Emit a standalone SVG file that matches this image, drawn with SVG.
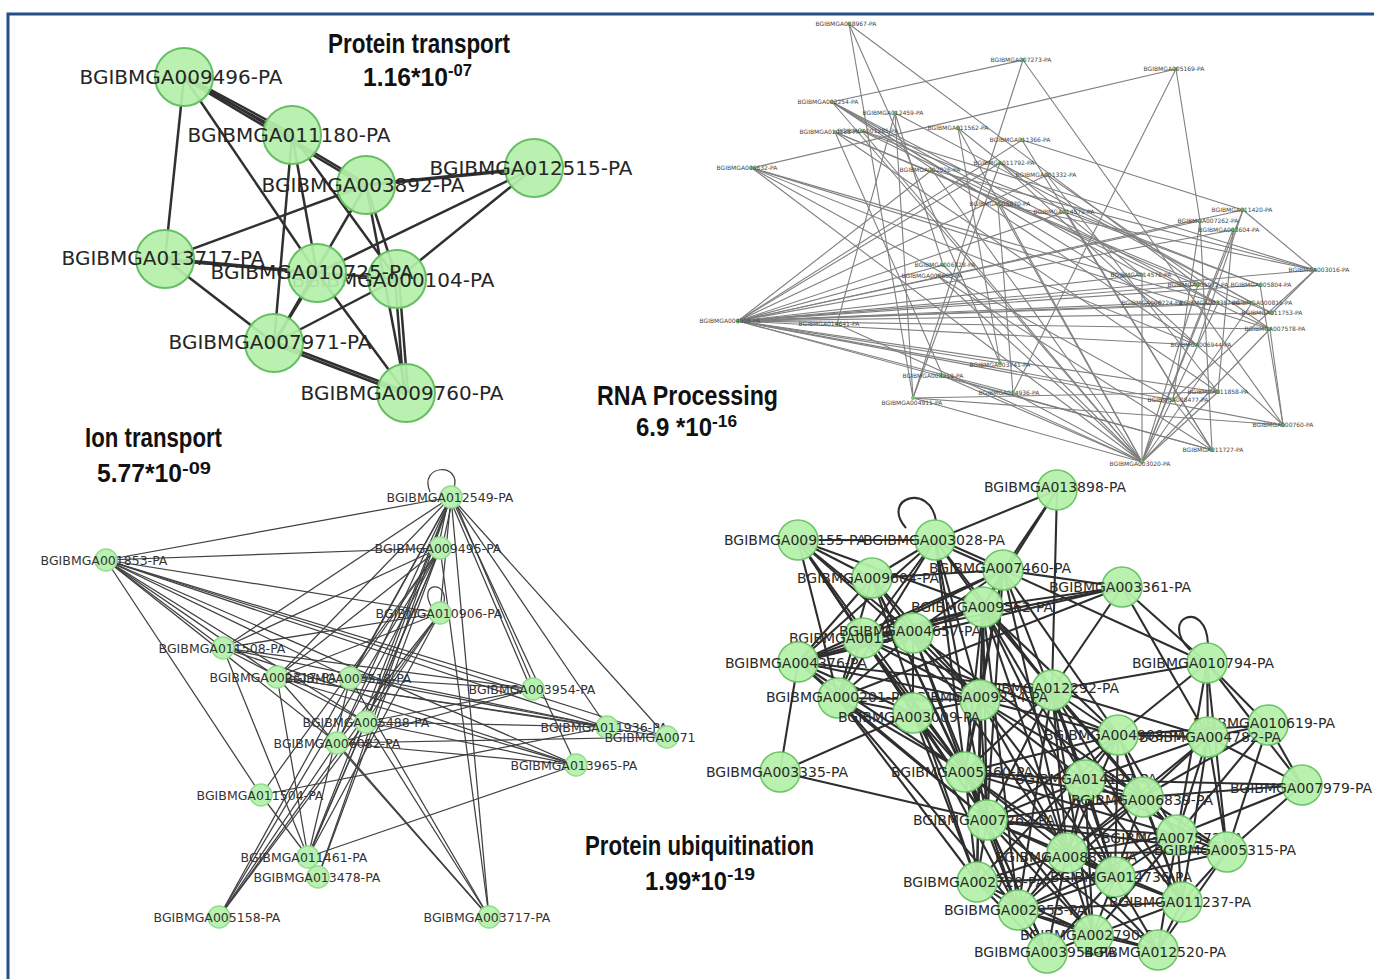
<svg xmlns="http://www.w3.org/2000/svg" width="1374" height="979" viewBox="0 0 1374 979">
<style>
.f{font-family:"DejaVu Sans","Liberation Sans",sans-serif;text-anchor:middle}
.l1{font-size:20px;fill:#262626}
.l2{font-size:6px;fill:#444}
.l3{font-size:12.5px;fill:#333}
.l4{font-size:14px;fill:#2a2a2a}
.n1{fill:#b5f0ab;stroke:#66bf62;stroke-width:2;fill-opacity:.93}
.n2{fill:#6fc86a}
.n3{fill:#b8f2b0;stroke:#95dc8f;stroke-width:1.5}
.n4{fill:#b5f0ab;stroke:#6cc468;stroke-width:1.5;fill-opacity:.95}
.e1 line{stroke:#303030;stroke-width:2.5}
.e2 line{stroke:#7f7f7f;stroke-width:1.1}
.e3 line,.e3 path{stroke:#404040;stroke-width:1.25;fill:none}
.e4 line,.e4 path{stroke:#2e2e2e;stroke-width:2.1;fill:none}
.tt{font-family:"Liberation Sans",Arial,sans-serif;font-weight:bold;font-size:28px;fill:#111}
.tn{font-family:"Liberation Sans",Arial,sans-serif;font-weight:bold;font-size:26px;fill:#111}
.ts{font-family:"Liberation Sans",Arial,sans-serif;font-weight:bold;font-size:16px;fill:#111}
</style>
<rect width="1374" height="979" fill="#fff"/>
<path d="M8 979V14H1374" fill="none" stroke="#24508a" stroke-width="3"/>

<!-- titles -->
<g id="title-protein-transport">
<text class="tt" x="328" y="53" textLength="182" lengthAdjust="spacingAndGlyphs">Protein transport</text>
<text class="tn" x="363" y="86" textLength="85" lengthAdjust="spacingAndGlyphs">1.16*10</text>
<text class="ts" x="448" y="76" textLength="24" lengthAdjust="spacingAndGlyphs">-07</text>
</g>
<g id="title-rna">
<text class="tt" x="597" y="405" textLength="181" lengthAdjust="spacingAndGlyphs">RNA Processing</text>
<text class="tn" x="636" y="436" textLength="76" lengthAdjust="spacingAndGlyphs">6.9 *10</text>
<text class="ts" x="712" y="427" textLength="25" lengthAdjust="spacingAndGlyphs">-16</text>
</g>
<g id="title-ion">
<text class="tt" x="85" y="447" textLength="137" lengthAdjust="spacingAndGlyphs">Ion transport</text>
<text class="tn" x="97" y="482" textLength="85" lengthAdjust="spacingAndGlyphs">5.77*10</text>
<text class="ts" x="182" y="474" textLength="29" lengthAdjust="spacingAndGlyphs">-09</text>
</g>
<g id="title-ubiq">
<text class="tt" x="585" y="855" textLength="229" lengthAdjust="spacingAndGlyphs">Protein ubiquitination</text>
<text class="tn" x="645" y="890" textLength="82" lengthAdjust="spacingAndGlyphs">1.99*10</text>
<text class="ts" x="727" y="880" textLength="28" lengthAdjust="spacingAndGlyphs">-19</text>
</g>

<!-- ===== Top-left connectors ===== -->
<g id="connectors-protein-transport" class="e1">
<line x1="184" y1="77" x2="165" y2="259"/>
<line x1="184" y1="75.5" x2="292" y2="133.5"/>
<line x1="184" y1="78.5" x2="292" y2="136.5"/>
<line x1="184" y1="75.5" x2="366" y2="183.5"/>
<line x1="184" y1="78.5" x2="366" y2="186.5"/>
<line x1="184" y1="77" x2="317" y2="273"/>
<line x1="292" y1="135" x2="317" y2="273"/>
<line x1="292" y1="135" x2="274" y2="343"/>
<line x1="292" y1="135" x2="397" y2="279"/>
<line x1="366" y1="185" x2="165" y2="259"/>
<line x1="366" y1="185" x2="274" y2="343"/>
<line x1="366" y1="185" x2="397" y2="279"/>
<line x1="366" y1="185" x2="406" y2="393"/>
<line x1="366" y1="185" x2="534" y2="168" style="stroke-width:3.5"/>
<line x1="534" y1="168" x2="317" y2="273"/>
<line x1="534" y1="168" x2="397" y2="279"/>
<line x1="165" y1="259" x2="317" y2="273" style="stroke-width:3.5"/>
<line x1="165" y1="260" x2="397" y2="279"/>
<line x1="165" y1="259" x2="274" y2="343"/>
<line x1="317" y1="273" x2="274" y2="343"/>
<line x1="317" y1="273" x2="406" y2="393"/>
<line x1="397" y1="279" x2="274" y2="343"/>
<line x1="395" y1="279" x2="404" y2="393"/>
<line x1="399" y1="279" x2="408" y2="393"/>
<line x1="274" y1="341.5" x2="406" y2="391.5"/>
<line x1="274" y1="344.5" x2="406" y2="394.5"/>
</g>

<!-- ===== Top-right connectors ===== -->
<g id="connectors-rna-processing" class="e2">
<line x1="849" y1="24" x2="913" y2="398"/>
<line x1="849" y1="24" x2="1000" y2="363"/>
<line x1="849" y1="24" x2="1198" y2="285"/>
<line x1="1023" y1="60" x2="832" y2="102"/>
<line x1="1023" y1="60" x2="913" y2="398"/>
<line x1="1023" y1="60" x2="1283" y2="425"/>
<line x1="1176" y1="69" x2="752" y2="168"/>
<line x1="1176" y1="69" x2="1013" y2="393"/>
<line x1="1176" y1="69" x2="1200" y2="221"/>
<line x1="832" y1="102" x2="1142" y2="275"/>
<line x1="832" y1="102" x2="1160" y2="303"/>
<line x1="832" y1="102" x2="1218" y2="303"/>
<line x1="832" y1="102" x2="1197" y2="345"/>
<line x1="832" y1="102" x2="998" y2="204"/>
<line x1="832" y1="102" x2="1142" y2="462"/>
<line x1="895" y1="113" x2="837" y2="324"/>
<line x1="895" y1="113" x2="913" y2="398"/>
<line x1="895" y1="113" x2="943" y2="265"/>
<line x1="895" y1="113" x2="1272" y2="313"/>
<line x1="835" y1="132" x2="1198" y2="285"/>
<line x1="835" y1="132" x2="1272" y2="313"/>
<line x1="835" y1="132" x2="1218" y2="392"/>
<line x1="835" y1="132" x2="943" y2="376"/>
<line x1="862" y1="131" x2="1260" y2="285"/>
<line x1="862" y1="131" x2="1270" y2="329"/>
<line x1="862" y1="131" x2="1142" y2="462"/>
<line x1="862" y1="131" x2="1315" y2="270"/>
<line x1="958" y1="128" x2="1000" y2="363"/>
<line x1="958" y1="128" x2="1142" y2="462"/>
<line x1="958" y1="128" x2="1142" y2="275"/>
<line x1="1022" y1="140" x2="1243" y2="210"/>
<line x1="1022" y1="140" x2="738" y2="321"/>
<line x1="1022" y1="140" x2="1212" y2="450"/>
<line x1="752" y1="168" x2="1218" y2="303"/>
<line x1="752" y1="168" x2="1197" y2="345"/>
<line x1="752" y1="168" x2="1173" y2="400"/>
<line x1="752" y1="168" x2="1142" y2="462"/>
<line x1="752" y1="168" x2="1270" y2="329"/>
<line x1="932" y1="170" x2="1315" y2="270"/>
<line x1="932" y1="170" x2="1142" y2="462"/>
<line x1="932" y1="170" x2="738" y2="321"/>
<line x1="1000" y1="163" x2="913" y2="398"/>
<line x1="1000" y1="163" x2="1252" y2="303"/>
<line x1="1000" y1="163" x2="1283" y2="425"/>
<line x1="1000" y1="163" x2="738" y2="321"/>
<line x1="1047" y1="175" x2="738" y2="321"/>
<line x1="1047" y1="175" x2="1218" y2="392"/>
<line x1="1047" y1="175" x2="1270" y2="329"/>
<line x1="998" y1="204" x2="1142" y2="462"/>
<line x1="998" y1="204" x2="1013" y2="393"/>
<line x1="998" y1="204" x2="1315" y2="270"/>
<line x1="1065" y1="212" x2="738" y2="321"/>
<line x1="1065" y1="212" x2="1212" y2="450"/>
<line x1="1065" y1="212" x2="1260" y2="285"/>
<line x1="1243" y1="210" x2="1142" y2="462"/>
<line x1="1243" y1="210" x2="1315" y2="270"/>
<line x1="1243" y1="210" x2="1197" y2="345"/>
<line x1="1243" y1="210" x2="738" y2="321"/>
<line x1="1200" y1="221" x2="738" y2="321"/>
<line x1="1200" y1="221" x2="1173" y2="400"/>
<line x1="1200" y1="221" x2="1212" y2="450"/>
<line x1="1233" y1="230" x2="1142" y2="462"/>
<line x1="1233" y1="230" x2="1218" y2="392"/>
<line x1="1233" y1="230" x2="738" y2="321"/>
<line x1="1315" y1="270" x2="738" y2="321"/>
<line x1="1315" y1="270" x2="1173" y2="400"/>
<line x1="1315" y1="270" x2="1272" y2="313"/>
<line x1="1142" y1="275" x2="1142" y2="462"/>
<line x1="1142" y1="275" x2="738" y2="321"/>
<line x1="1198" y1="285" x2="1142" y2="462"/>
<line x1="1198" y1="285" x2="738" y2="321"/>
<line x1="1260" y1="285" x2="738" y2="321"/>
<line x1="1260" y1="285" x2="1283" y2="425"/>
<line x1="1160" y1="303" x2="738" y2="321"/>
<line x1="1218" y1="303" x2="738" y2="321"/>
<line x1="1218" y1="303" x2="1142" y2="462"/>
<line x1="1252" y1="303" x2="1142" y2="462"/>
<line x1="1272" y1="313" x2="738" y2="321"/>
<line x1="1270" y1="329" x2="1283" y2="425"/>
<line x1="1270" y1="329" x2="1142" y2="462"/>
<line x1="1197" y1="345" x2="738" y2="321"/>
<line x1="1218" y1="392" x2="738" y2="321"/>
<line x1="1218" y1="392" x2="1142" y2="462"/>
<line x1="1173" y1="400" x2="738" y2="321"/>
<line x1="1173" y1="400" x2="1212" y2="450"/>
<line x1="1283" y1="425" x2="738" y2="321"/>
<line x1="1212" y1="450" x2="738" y2="321"/>
<line x1="943" y1="265" x2="1142" y2="462"/>
<line x1="938" y1="276" x2="1142" y2="462"/>
<line x1="938" y1="276" x2="1212" y2="450"/>
<line x1="943" y1="265" x2="738" y2="321"/>
<line x1="837" y1="324" x2="1142" y2="462"/>
<line x1="1000" y1="363" x2="738" y2="321"/>
<line x1="943" y1="376" x2="1142" y2="462"/>
<line x1="943" y1="376" x2="1212" y2="450"/>
<line x1="1013" y1="393" x2="738" y2="321"/>
<line x1="1013" y1="393" x2="1142" y2="462"/>
<line x1="913" y1="398" x2="1142" y2="462"/>
<line x1="913" y1="398" x2="1283" y2="425"/>
<line x1="913" y1="398" x2="1218" y2="392"/>
<line x1="738" y1="321" x2="1252" y2="303"/>
<line x1="738" y1="321" x2="1270" y2="329"/>
</g>

<!-- ===== Bottom-left connectors ===== -->
<g id="connectors-ion-transport" class="e3">
<path d="M430 492C418 464 462 462 454 488"/>
<path d="M431 606C418 582 448 580 444 603"/>
<line x1="106" y1="560" x2="451" y2="497"/>
<line x1="106" y1="560" x2="440" y2="548"/>
<line x1="106" y1="560" x2="440" y2="613"/>
<line x1="106" y1="560" x2="223" y2="648"/>
<line x1="106" y1="560" x2="277" y2="677"/>
<line x1="106" y1="560" x2="350" y2="678"/>
<line x1="106" y1="560" x2="533" y2="689"/>
<line x1="106" y1="560" x2="366" y2="722"/>
<line x1="106" y1="560" x2="337" y2="743"/>
<line x1="106" y1="560" x2="607" y2="727"/>
<line x1="106" y1="560" x2="667" y2="737"/>
<line x1="106" y1="560" x2="576" y2="765"/>
<line x1="106" y1="560" x2="261" y2="795"/>
<line x1="449" y1="497" x2="438" y2="548"/>
<line x1="453" y1="497" x2="442" y2="548"/>
<line x1="451" y1="497" x2="440" y2="613"/>
<line x1="451" y1="497" x2="223" y2="648"/>
<line x1="451" y1="497" x2="277" y2="677"/>
<line x1="451" y1="497" x2="350" y2="678"/>
<line x1="449" y1="497" x2="531" y2="689"/>
<line x1="453" y1="497" x2="535" y2="689"/>
<line x1="451" y1="497" x2="366" y2="722"/>
<line x1="451" y1="497" x2="337" y2="743"/>
<line x1="451" y1="497" x2="607" y2="727"/>
<line x1="451" y1="497" x2="667" y2="737"/>
<line x1="451" y1="497" x2="576" y2="765"/>
<line x1="451" y1="497" x2="308" y2="857"/>
<line x1="451" y1="497" x2="318" y2="877"/>
<line x1="451" y1="497" x2="219" y2="917"/>
<line x1="451" y1="497" x2="489" y2="917"/>
<line x1="440" y1="548" x2="223" y2="648"/>
<line x1="440" y1="548" x2="277" y2="677"/>
<line x1="440" y1="548" x2="350" y2="678"/>
<line x1="440" y1="548" x2="366" y2="722"/>
<line x1="440" y1="548" x2="337" y2="743"/>
<line x1="440" y1="548" x2="308" y2="857"/>
<line x1="440" y1="548" x2="318" y2="877"/>
<line x1="440" y1="548" x2="219" y2="917"/>
<line x1="440" y1="548" x2="489" y2="917"/>
<line x1="440" y1="548" x2="261" y2="795"/>
<line x1="440" y1="613" x2="223" y2="648"/>
<line x1="440" y1="613" x2="366" y2="722"/>
<line x1="440" y1="613" x2="337" y2="743"/>
<line x1="440" y1="613" x2="308" y2="857"/>
<line x1="440" y1="613" x2="219" y2="917"/>
<line x1="440" y1="613" x2="277" y2="677"/>
<line x1="223" y1="648" x2="533" y2="689"/>
<line x1="223" y1="648" x2="607" y2="727"/>
<line x1="223" y1="648" x2="576" y2="765"/>
<line x1="223" y1="648" x2="308" y2="857"/>
<line x1="223" y1="648" x2="366" y2="722"/>
<line x1="277" y1="677" x2="607" y2="727"/>
<line x1="277" y1="677" x2="667" y2="737"/>
<line x1="277" y1="677" x2="576" y2="765"/>
<line x1="277" y1="677" x2="308" y2="857"/>
<line x1="277" y1="677" x2="489" y2="917"/>
<line x1="350" y1="678" x2="533" y2="689"/>
<line x1="350" y1="678" x2="607" y2="727"/>
<line x1="350" y1="678" x2="489" y2="917"/>
<line x1="350" y1="678" x2="308" y2="857"/>
<line x1="533" y1="689" x2="337" y2="743"/>
<line x1="533" y1="689" x2="366" y2="722"/>
<line x1="366" y1="722" x2="607" y2="727"/>
<line x1="366" y1="722" x2="576" y2="765"/>
<line x1="366" y1="722" x2="489" y2="917"/>
<line x1="366" y1="722" x2="308" y2="857"/>
<line x1="337" y1="743" x2="576" y2="765"/>
<line x1="337" y1="743" x2="489" y2="917"/>
<line x1="337" y1="743" x2="667" y2="737"/>
<line x1="261" y1="795" x2="607" y2="727"/>
<line x1="261" y1="795" x2="308" y2="857"/>
<line x1="308" y1="857" x2="576" y2="765"/>
<line x1="219" y1="917" x2="366" y2="722"/>
<line x1="219" y1="917" x2="337" y2="743"/>
</g>

<!-- ===== Bottom-right connectors ===== -->
<g id="connectors-protein-ubiquitination" class="e4">
<path d="M906 528C880 498 930 482 936 521"/>
<path d="M1190 650C1158 618 1206 598 1208 644"/>
<line x1="798" y1="540" x2="935" y2="540"/>
<line x1="798" y1="540" x2="872" y2="578"/>
<line x1="798" y1="540" x2="913" y2="633"/>
<line x1="798" y1="540" x2="863" y2="638"/>
<line x1="798" y1="540" x2="838" y2="698"/>
<line x1="798" y1="540" x2="980" y2="700"/>
<line x1="798" y1="540" x2="983" y2="607"/>
<line x1="798" y1="540" x2="913" y2="713"/>
<line x1="798" y1="540" x2="965" y2="772"/>
<line x1="798" y1="540" x2="987" y2="820"/>
<line x1="935" y1="540" x2="1057" y2="490"/>
<line x1="935" y1="538" x2="1003" y2="568"/>
<line x1="935" y1="542" x2="1003" y2="572"/>
<line x1="935" y1="540" x2="872" y2="578"/>
<line x1="935" y1="540" x2="798" y2="662"/>
<line x1="935" y1="540" x2="838" y2="698"/>
<line x1="935" y1="540" x2="983" y2="607"/>
<line x1="935" y1="540" x2="980" y2="700"/>
<line x1="935" y1="540" x2="965" y2="772"/>
<line x1="935" y1="540" x2="987" y2="820"/>
<line x1="935" y1="540" x2="863" y2="638"/>
<line x1="935" y1="540" x2="1052" y2="690"/>
<line x1="1057" y1="490" x2="1052" y2="690"/>
<line x1="1057" y1="490" x2="1003" y2="570"/>
<line x1="1057" y1="490" x2="983" y2="607"/>
<line x1="1003" y1="570" x2="872" y2="578"/>
<line x1="1003" y1="570" x2="1122" y2="587"/>
<line x1="1003" y1="570" x2="983" y2="607"/>
<line x1="1003" y1="570" x2="913" y2="633"/>
<line x1="1003" y1="570" x2="863" y2="638"/>
<line x1="1003" y1="570" x2="798" y2="662"/>
<line x1="1003" y1="570" x2="980" y2="700"/>
<line x1="1003" y1="570" x2="1118" y2="735"/>
<line x1="1003" y1="570" x2="965" y2="772"/>
<line x1="1003" y1="570" x2="987" y2="820"/>
<line x1="1003" y1="570" x2="1207" y2="663"/>
<line x1="1003" y1="570" x2="1085" y2="780"/>
<line x1="1003" y1="570" x2="1067" y2="853"/>
<line x1="872" y1="578" x2="913" y2="633"/>
<line x1="872" y1="578" x2="798" y2="662"/>
<line x1="872" y1="578" x2="838" y2="698"/>
<line x1="872" y1="578" x2="980" y2="700"/>
<line x1="872" y1="578" x2="965" y2="772"/>
<line x1="872" y1="578" x2="987" y2="820"/>
<line x1="872" y1="578" x2="977" y2="882"/>
<line x1="1122" y1="587" x2="983" y2="607"/>
<line x1="1122" y1="587" x2="1207" y2="663"/>
<line x1="1122" y1="587" x2="1208" y2="737"/>
<line x1="1122" y1="587" x2="1052" y2="690"/>
<line x1="1122" y1="587" x2="863" y2="638"/>
<line x1="1122" y1="587" x2="798" y2="662"/>
<line x1="1122" y1="587" x2="838" y2="698"/>
<line x1="983" y1="607" x2="913" y2="633"/>
<line x1="983" y1="607" x2="863" y2="638"/>
<line x1="983" y1="607" x2="798" y2="662"/>
<line x1="983" y1="607" x2="980" y2="700"/>
<line x1="983" y1="607" x2="1052" y2="690"/>
<line x1="983" y1="607" x2="1118" y2="735"/>
<line x1="983" y1="607" x2="965" y2="772"/>
<line x1="983" y1="607" x2="1085" y2="780"/>
<line x1="983" y1="607" x2="987" y2="820"/>
<line x1="983" y1="607" x2="1067" y2="853"/>
<line x1="983" y1="607" x2="1115" y2="877"/>
<line x1="983" y1="607" x2="977" y2="882"/>
<line x1="983" y1="607" x2="1018" y2="910"/>
<line x1="983" y1="607" x2="1177" y2="835"/>
<line x1="913" y1="633" x2="863" y2="638"/>
<line x1="913" y1="633" x2="798" y2="662"/>
<line x1="913" y1="633" x2="838" y2="698"/>
<line x1="913" y1="633" x2="980" y2="700"/>
<line x1="913" y1="633" x2="913" y2="713"/>
<line x1="913" y1="633" x2="965" y2="772"/>
<line x1="913" y1="633" x2="987" y2="820"/>
<line x1="913" y1="633" x2="1067" y2="853"/>
<line x1="913" y1="633" x2="1143" y2="797"/>
<line x1="863" y1="638" x2="798" y2="662"/>
<line x1="863" y1="638" x2="838" y2="698"/>
<line x1="863" y1="638" x2="913" y2="713"/>
<line x1="863" y1="638" x2="980" y2="700"/>
<line x1="863" y1="638" x2="965" y2="772"/>
<line x1="863" y1="638" x2="987" y2="820"/>
<line x1="863" y1="638" x2="1118" y2="735"/>
<line x1="798" y1="662" x2="838" y2="698"/>
<line x1="798" y1="662" x2="780" y2="772"/>
<line x1="798" y1="662" x2="913" y2="713"/>
<line x1="798" y1="662" x2="980" y2="700"/>
<line x1="798" y1="662" x2="1052" y2="690"/>
<line x1="798" y1="662" x2="965" y2="772"/>
<line x1="798" y1="662" x2="987" y2="820"/>
<line x1="1207" y1="663" x2="1052" y2="690"/>
<line x1="1207" y1="663" x2="1268" y2="725"/>
<line x1="1207" y1="663" x2="1118" y2="735"/>
<line x1="1207" y1="663" x2="1208" y2="737"/>
<line x1="1207" y1="663" x2="1177" y2="835"/>
<line x1="1207" y1="663" x2="1227" y2="852"/>
<line x1="1207" y1="663" x2="1302" y2="785"/>
<line x1="838" y1="698" x2="913" y2="713"/>
<line x1="838" y1="698" x2="965" y2="772"/>
<line x1="838" y1="698" x2="987" y2="820"/>
<line x1="838" y1="698" x2="980" y2="700"/>
<line x1="838" y1="698" x2="977" y2="882"/>
<line x1="838" y1="698" x2="1018" y2="910"/>
<line x1="980" y1="700" x2="913" y2="713"/>
<line x1="980" y1="700" x2="1118" y2="735"/>
<line x1="980" y1="700" x2="965" y2="772"/>
<line x1="980" y1="700" x2="987" y2="820"/>
<line x1="980" y1="700" x2="1067" y2="853"/>
<line x1="980" y1="700" x2="977" y2="882"/>
<line x1="980" y1="700" x2="1115" y2="877"/>
<line x1="980" y1="700" x2="1143" y2="797"/>
<line x1="980" y1="700" x2="1085" y2="780"/>
<line x1="1052" y1="690" x2="1118" y2="735"/>
<line x1="1052" y1="690" x2="965" y2="772"/>
<line x1="1052" y1="690" x2="1085" y2="780"/>
<line x1="1052" y1="690" x2="1143" y2="797"/>
<line x1="1052" y1="690" x2="987" y2="820"/>
<line x1="1052" y1="690" x2="1177" y2="835"/>
<line x1="1052" y1="690" x2="1067" y2="853"/>
<line x1="1052" y1="690" x2="1115" y2="877"/>
<line x1="1052" y1="690" x2="1182" y2="902"/>
<line x1="1052" y1="690" x2="1018" y2="910"/>
<line x1="1052" y1="690" x2="1093" y2="935"/>
<line x1="1052" y1="690" x2="1208" y2="737"/>
<line x1="913" y1="713" x2="780" y2="772"/>
<line x1="913" y1="713" x2="965" y2="772"/>
<line x1="913" y1="713" x2="987" y2="820"/>
<line x1="913" y1="713" x2="977" y2="882"/>
<line x1="913" y1="713" x2="1018" y2="910"/>
<line x1="1268" y1="725" x2="1208" y2="737"/>
<line x1="1268" y1="725" x2="1302" y2="785"/>
<line x1="1268" y1="725" x2="1227" y2="852"/>
<line x1="1268" y1="725" x2="1143" y2="797"/>
<line x1="1268" y1="725" x2="1118" y2="735"/>
<line x1="1268" y1="725" x2="1177" y2="835"/>
<line x1="1118" y1="735" x2="1208" y2="737"/>
<line x1="1118" y1="735" x2="1085" y2="780"/>
<line x1="1118" y1="735" x2="1143" y2="797"/>
<line x1="1118" y1="735" x2="987" y2="820"/>
<line x1="1118" y1="735" x2="1177" y2="835"/>
<line x1="1118" y1="735" x2="1067" y2="853"/>
<line x1="1118" y1="735" x2="1115" y2="877"/>
<line x1="1118" y1="735" x2="1182" y2="902"/>
<line x1="1118" y1="735" x2="965" y2="772"/>
<line x1="1118" y1="735" x2="977" y2="882"/>
<line x1="1208" y1="737" x2="1143" y2="797"/>
<line x1="1208" y1="737" x2="1302" y2="785"/>
<line x1="1208" y1="737" x2="1177" y2="835"/>
<line x1="1208" y1="737" x2="1227" y2="852"/>
<line x1="1208" y1="737" x2="1085" y2="780"/>
<line x1="1208" y1="737" x2="1182" y2="902"/>
<line x1="1208" y1="737" x2="1067" y2="853"/>
<line x1="780" y1="772" x2="987" y2="820"/>
<line x1="965" y1="772" x2="987" y2="820"/>
<line x1="965" y1="772" x2="1067" y2="853"/>
<line x1="965" y1="772" x2="977" y2="882"/>
<line x1="965" y1="772" x2="1115" y2="877"/>
<line x1="965" y1="772" x2="1018" y2="910"/>
<line x1="965" y1="772" x2="1093" y2="935"/>
<line x1="965" y1="772" x2="1085" y2="780"/>
<line x1="965" y1="772" x2="1143" y2="797"/>
<line x1="965" y1="772" x2="1047" y2="953"/>
<line x1="965" y1="772" x2="1177" y2="835"/>
<line x1="1085" y1="780" x2="1302" y2="785"/>
<line x1="1085" y1="780" x2="1143" y2="797"/>
<line x1="1085" y1="780" x2="987" y2="820"/>
<line x1="1085" y1="780" x2="1067" y2="853"/>
<line x1="1085" y1="780" x2="1115" y2="877"/>
<line x1="1085" y1="780" x2="1018" y2="910"/>
<line x1="1085" y1="780" x2="1093" y2="935"/>
<line x1="1085" y1="780" x2="1227" y2="852"/>
<line x1="1085" y1="780" x2="1182" y2="902"/>
<line x1="1143" y1="797" x2="1302" y2="785"/>
<line x1="1143" y1="797" x2="1177" y2="835"/>
<line x1="1143" y1="797" x2="1227" y2="852"/>
<line x1="1143" y1="797" x2="1067" y2="853"/>
<line x1="1143" y1="797" x2="1115" y2="877"/>
<line x1="1143" y1="797" x2="1182" y2="902"/>
<line x1="1143" y1="797" x2="987" y2="820"/>
<line x1="1143" y1="797" x2="1018" y2="910"/>
<line x1="1302" y1="785" x2="1177" y2="835"/>
<line x1="1302" y1="785" x2="1227" y2="852"/>
<line x1="987" y1="820" x2="1067" y2="853"/>
<line x1="987" y1="820" x2="977" y2="882"/>
<line x1="987" y1="820" x2="1115" y2="877"/>
<line x1="987" y1="820" x2="1018" y2="910"/>
<line x1="987" y1="820" x2="1093" y2="935"/>
<line x1="987" y1="820" x2="1047" y2="953"/>
<line x1="987" y1="820" x2="1177" y2="835"/>
<line x1="987" y1="820" x2="1158" y2="950"/>
<line x1="987" y1="820" x2="1227" y2="852"/>
<line x1="1177" y1="835" x2="1227" y2="852"/>
<line x1="1177" y1="835" x2="1067" y2="853"/>
<line x1="1177" y1="835" x2="1115" y2="877"/>
<line x1="1177" y1="835" x2="1182" y2="902"/>
<line x1="1177" y1="835" x2="1018" y2="910"/>
<line x1="1177" y1="835" x2="1093" y2="935"/>
<line x1="1177" y1="835" x2="1158" y2="950"/>
<line x1="1227" y1="852" x2="1115" y2="877"/>
<line x1="1227" y1="852" x2="1182" y2="902"/>
<line x1="1227" y1="852" x2="1067" y2="853"/>
<line x1="1227" y1="852" x2="1158" y2="950"/>
<line x1="1067" y1="853" x2="977" y2="882"/>
<line x1="1067" y1="853" x2="1115" y2="877"/>
<line x1="1067" y1="853" x2="1018" y2="910"/>
<line x1="1067" y1="853" x2="1093" y2="935"/>
<line x1="1067" y1="853" x2="1047" y2="953"/>
<line x1="1067" y1="853" x2="1158" y2="950"/>
<line x1="1067" y1="853" x2="1182" y2="902"/>
<line x1="977" y1="882" x2="1115" y2="877"/>
<line x1="977" y1="882" x2="1018" y2="910"/>
<line x1="977" y1="882" x2="1093" y2="935"/>
<line x1="977" y1="882" x2="1047" y2="953"/>
<line x1="1115" y1="877" x2="1182" y2="902"/>
<line x1="1115" y1="877" x2="1018" y2="910"/>
<line x1="1115" y1="877" x2="1093" y2="935"/>
<line x1="1115" y1="877" x2="1047" y2="953"/>
<line x1="1115" y1="877" x2="1158" y2="950"/>
<line x1="1182" y1="902" x2="1093" y2="935"/>
<line x1="1182" y1="902" x2="1158" y2="950"/>
<line x1="1182" y1="902" x2="1018" y2="910"/>
<line x1="1018" y1="910" x2="1093" y2="935"/>
<line x1="1018" y1="910" x2="1047" y2="953"/>
<line x1="1018" y1="910" x2="1158" y2="950"/>
<line x1="1093" y1="935" x2="1047" y2="953"/>
<line x1="1093" y1="935" x2="1158" y2="950"/>
</g>

<!-- ===== Top-left nodes ===== -->
<g id="tl-009496"><circle class="n1" cx="184" cy="77" r="29"/><text class="f l1" x="181" y="84">BGIBMGA009496-PA</text></g>
<g id="tl-011180"><circle class="n1" cx="292" cy="135" r="29"/><text class="f l1" x="289" y="142">BGIBMGA011180-PA</text></g>
<g id="tl-003892"><circle class="n1" cx="366" cy="185" r="29"/><text class="f l1" x="363" y="192">BGIBMGA003892-PA</text></g>
<g id="tl-012515"><circle class="n1" cx="534" cy="168" r="29"/><text class="f l1" x="531" y="175">BGIBMGA012515-PA</text></g>
<g id="tl-013717"><circle class="n1" cx="165" cy="259" r="29"/><text class="f l1" x="163" y="265">BGIBMGA013717-PA</text></g>
<g id="tl-000104"><circle class="n1" cx="397" cy="279" r="29"/><text class="f l1" x="393" y="287">BGIBMGA000104-PA</text></g>
<g id="tl-010725"><circle class="n1" cx="317" cy="273" r="29"/><text class="f l1" x="312" y="279">BGIBMGA010725-PA</text></g>
<g id="tl-007971"><circle class="n1" cx="274" cy="343" r="29"/><text class="f l1" x="270" y="349">BGIBMGA007971-PA</text></g>
<g id="tl-009760"><circle class="n1" cx="406" cy="393" r="29"/><text class="f l1" x="402" y="400">BGIBMGA009760-PA</text></g>

<!-- ===== Top-right nodes ===== -->
<g id="tr-008967"><circle class="n2" cx="849" cy="24" r="2"/><text class="f l2" x="846" y="26">BGIBMGA008967-PA</text></g>
<g id="tr-007273"><circle class="n2" cx="1023" cy="60" r="2"/><text class="f l2" x="1021" y="62">BGIBMGA007273-PA</text></g>
<g id="tr-005169"><circle class="n2" cx="1176" cy="69" r="2"/><text class="f l2" x="1174" y="71">BGIBMGA005169-PA</text></g>
<g id="tr-002254"><circle class="n2" cx="832" cy="102" r="2"/><text class="f l2" x="828" y="104">BGIBMGA002254-PA</text></g>
<g id="tr-012459"><circle class="n2" cx="895" cy="113" r="2"/><text class="f l2" x="893" y="115">BGIBMGA012459-PA</text></g>
<g id="tr-010188"><circle class="n2" cx="835" cy="132" r="2"/><text class="f l2" x="830" y="134">BGIBMGA010188-PA</text></g>
<g id="tr-001285"><circle class="n2" cx="862" cy="131" r="2"/><text class="f l2" x="868" y="133">BGIBMGA001285-PA</text></g>
<g id="tr-011562"><circle class="n2" cx="958" cy="128" r="2"/><text class="f l2" x="958" y="130">BGIBMGA011562-PA</text></g>
<g id="tr-011366"><circle class="n2" cx="1022" cy="140" r="2"/><text class="f l2" x="1020" y="142">BGIBMGA011366-PA</text></g>
<g id="tr-000632"><circle class="n2" cx="752" cy="168" r="2"/><text class="f l2" x="747" y="170">BGIBMGA000632-PA</text></g>
<g id="tr-002026"><circle class="n2" cx="932" cy="170" r="2"/><text class="f l2" x="930" y="172">BGIBMGA002026-PA</text></g>
<g id="tr-011792"><circle class="n2" cx="1000" cy="163" r="2"/><text class="f l2" x="1004" y="165">BGIBMGA011792-PA</text></g>
<g id="tr-001332"><circle class="n2" cx="1047" cy="175" r="2"/><text class="f l2" x="1046" y="177">BGIBMGA001332-PA</text></g>
<g id="tr-005870"><circle class="n2" cx="998" cy="204" r="2"/><text class="f l2" x="1000" y="206">BGIBMGA005870-PA</text></g>
<g id="tr-014579"><circle class="n2" cx="1065" cy="212" r="2"/><text class="f l2" x="1064" y="214">BGIBMGA014579-PA</text></g>
<g id="tr-011420"><circle class="n2" cx="1243" cy="210" r="2"/><text class="f l2" x="1242" y="212">BGIBMGA011420-PA</text></g>
<g id="tr-007262"><circle class="n2" cx="1200" cy="221" r="2"/><text class="f l2" x="1208" y="223">BGIBMGA007262-PA</text></g>
<g id="tr-003604"><circle class="n2" cx="1233" cy="230" r="2"/><text class="f l2" x="1229" y="232">BGIBMGA003604-PA</text></g>
<g id="tr-003016"><circle class="n2" cx="1315" cy="270" r="2"/><text class="f l2" x="1319" y="272">BGIBMGA003016-PA</text></g>
<g id="tr-014576"><circle class="n2" cx="1142" cy="275" r="2"/><text class="f l2" x="1141" y="277">BGIBMGA014576-PA</text></g>
<g id="tr-005972"><circle class="n2" cx="1198" cy="285" r="2"/><text class="f l2" x="1198" y="287">BGIBMGA005972-PA</text></g>
<g id="tr-005804"><circle class="n2" cx="1260" cy="285" r="2"/><text class="f l2" x="1261" y="287">BGIBMGA005804-PA</text></g>
<g id="tr-006224"><circle class="n2" cx="1160" cy="303" r="2"/><text class="f l2" x="1152" y="305">BGIBMGA006224-PA</text></g>
<g id="tr-003357"><circle class="n2" cx="1218" cy="303" r="2"/><text class="f l2" x="1210" y="305">BGIBMGA003357-PA</text></g>
<g id="tr-000816"><circle class="n2" cx="1252" cy="303" r="2"/><text class="f l2" x="1262" y="305">BGIBMGA000816-PA</text></g>
<g id="tr-011753"><circle class="n2" cx="1272" cy="313" r="2"/><text class="f l2" x="1272" y="315">BGIBMGA011753-PA</text></g>
<g id="tr-007578"><circle class="n2" cx="1270" cy="329" r="2"/><text class="f l2" x="1275" y="331">BGIBMGA007578-PA</text></g>
<g id="tr-006944"><circle class="n2" cx="1197" cy="345" r="2"/><text class="f l2" x="1201" y="347">BGIBMGA006944-PA</text></g>
<g id="tr-011858"><circle class="n2" cx="1218" cy="392" r="2"/><text class="f l2" x="1218" y="394">BGIBMGA011858-PA</text></g>
<g id="tr-008477"><circle class="n2" cx="1173" cy="400" r="2"/><text class="f l2" x="1178" y="402">BGIBMGA008477-PA</text></g>
<g id="tr-000760"><circle class="n2" cx="1283" cy="425" r="2"/><text class="f l2" x="1283" y="427">BGIBMGA000760-PA</text></g>
<g id="tr-011727"><circle class="n2" cx="1212" cy="450" r="2"/><text class="f l2" x="1213" y="452">BGIBMGA011727-PA</text></g>
<g id="tr-003020"><circle class="n2" cx="1142" cy="462" r="2"/><text class="f l2" x="1140" y="466">BGIBMGA003020-PA</text></g>
<g id="tr-006828"><circle class="n2" cx="943" cy="265" r="2"/><text class="f l2" x="945" y="267">BGIBMGA006828-PA</text></g>
<g id="tr-008665"><circle class="n2" cx="938" cy="276" r="2"/><text class="f l2" x="932" y="278">BGIBMGA008665-PA</text></g>
<g id="tr-004908"><circle class="n2" cx="738" cy="321" r="2.5"/><text class="f l2" x="730" y="323">BGIBMGA004908-PA</text></g>
<g id="tr-014641"><circle class="n2" cx="837" cy="324" r="2"/><text class="f l2" x="829" y="326">BGIBMGA014641-PA</text></g>
<g id="tr-003741"><circle class="n2" cx="1000" cy="363" r="2"/><text class="f l2" x="1000" y="367">BGIBMGA003741-PA</text></g>
<g id="tr-008219"><circle class="n2" cx="943" cy="376" r="2"/><text class="f l2" x="933" y="378">BGIBMGA008219-PA</text></g>
<g id="tr-014936"><circle class="n2" cx="1013" cy="393" r="2"/><text class="f l2" x="1009" y="395">BGIBMGA014936-PA</text></g>
<g id="tr-004911"><circle class="n2" cx="913" cy="398" r="2"/><text class="f l2" x="912" y="405">BGIBMGA004911-PA</text></g>

<!-- ===== Bottom-left nodes ===== -->
<g id="bl-012549"><circle class="n3" cx="451" cy="497" r="11"/><text class="f l3" x="450" y="502">BGIBMGA012549-PA</text></g>
<g id="bl-009495"><circle class="n3" cx="440" cy="548" r="11"/><text class="f l3" x="438" y="553">BGIBMGA009495-PA</text></g>
<g id="bl-010906"><circle class="n3" cx="440" cy="613" r="11"/><text class="f l3" x="439" y="618">BGIBMGA010906-PA</text></g>
<g id="bl-001853"><circle class="n3" cx="106" cy="560" r="11"/><text class="f l3" x="104" y="565">BGIBMGA001853-PA</text></g>
<g id="bl-011508"><circle class="n3" cx="223" cy="648" r="11"/><text class="f l3" x="222" y="653">BGIBMGA011508-PA</text></g>
<g id="bl-002317"><circle class="n3" cx="277" cy="677" r="11"/><text class="f l3" x="273" y="682">BGIBMGA002317-PA</text></g>
<g id="bl-003518"><circle class="n3" cx="350" cy="678" r="11"/><text class="f l3" x="348" y="683">BGIBMGA003518-PA</text></g>
<g id="bl-003954"><circle class="n3" cx="533" cy="689" r="11"/><text class="f l3" x="532" y="694">BGIBMGA003954-PA</text></g>
<g id="bl-005488"><circle class="n3" cx="366" cy="722" r="11"/><text class="f l3" x="366" y="727">BGIBMGA005488-PA</text></g>
<g id="bl-006082"><circle class="n3" cx="337" cy="743" r="11"/><text class="f l3" x="337" y="748">BGIBMGA006082-PA</text></g>
<g id="bl-011936"><circle class="n3" cx="607" cy="727" r="11"/><text class="f l3" x="604" y="732">BGIBMGA011936-PA</text></g>
<g id="bl-0071"><circle class="n3" cx="667" cy="737" r="11"/><text class="f l3" x="650" y="742">BGIBMGA0071</text></g>
<g id="bl-013965"><circle class="n3" cx="576" cy="765" r="11"/><text class="f l3" x="574" y="770">BGIBMGA013965-PA</text></g>
<g id="bl-011504"><circle class="n3" cx="261" cy="795" r="11"/><text class="f l3" x="260" y="800">BGIBMGA011504-PA</text></g>
<g id="bl-011461"><circle class="n3" cx="308" cy="857" r="11"/><text class="f l3" x="304" y="862">BGIBMGA011461-PA</text></g>
<g id="bl-013478"><circle class="n3" cx="318" cy="877" r="11"/><text class="f l3" x="317" y="882">BGIBMGA013478-PA</text></g>
<g id="bl-005158"><circle class="n3" cx="219" cy="917" r="11"/><text class="f l3" x="217" y="922">BGIBMGA005158-PA</text></g>
<g id="bl-003717"><circle class="n3" cx="489" cy="917" r="11"/><text class="f l3" x="487" y="922">BGIBMGA003717-PA</text></g>

<!-- ===== Bottom-right nodes ===== -->
<g id="br-009155"><circle class="n4" cx="798" cy="540" r="20"/><text class="f l4" x="795" y="545">BGIBMGA009155-PA</text></g>
<g id="br-003028"><circle class="n4" cx="935" cy="540" r="20"/><text class="f l4" x="934" y="545">BGIBMGA003028-PA</text></g>
<g id="br-013898"><circle class="n4" cx="1057" cy="490" r="20"/><text class="f l4" x="1055" y="492">BGIBMGA013898-PA</text></g>
<g id="br-009604"><circle class="n4" cx="872" cy="578" r="20"/><text class="f l4" x="868" y="583">BGIBMGA009604-PA</text></g>
<g id="br-007460"><circle class="n4" cx="1003" cy="570" r="20"/><text class="f l4" x="1000" y="573">BGIBMGA007460-PA</text></g>
<g id="br-003361"><circle class="n4" cx="1122" cy="587" r="20"/><text class="f l4" x="1120" y="592">BGIBMGA003361-PA</text></g>
<g id="br-009562"><circle class="n4" cx="983" cy="607" r="20"/><text class="f l4" x="982" y="612">BGIBMGA009562-PA</text></g>
<g id="br-001516"><circle class="n4" cx="863" cy="638" r="20"/><text class="f l4" x="860" y="643">BGIBMGA001516-PA</text></g>
<g id="br-004657"><circle class="n4" cx="913" cy="633" r="20"/><text class="f l4" x="910" y="636">BGIBMGA004657-PA</text></g>
<g id="br-004376"><circle class="n4" cx="798" cy="662" r="20"/><text class="f l4" x="796" y="668">BGIBMGA004376-PA</text></g>
<g id="br-010794"><circle class="n4" cx="1207" cy="663" r="20"/><text class="f l4" x="1203" y="668">BGIBMGA010794-PA</text></g>
<g id="br-000201"><circle class="n4" cx="838" cy="698" r="20"/><text class="f l4" x="837" y="702">BGIBMGA000201-PA</text></g>
<g id="br-012292"><circle class="n4" cx="1052" cy="690" r="20"/><text class="f l4" x="1048" y="693">BGIBMGA012292-PA</text></g>
<g id="br-009234"><circle class="n4" cx="980" cy="700" r="20"/><text class="f l4" x="977" y="702">BGIBMGA009234-PA</text></g>
<g id="br-003009"><circle class="n4" cx="913" cy="713" r="20"/><text class="f l4" x="909" y="722">BGIBMGA003009-PA</text></g>
<g id="br-010619"><circle class="n4" cx="1268" cy="725" r="20"/><text class="f l4" x="1264" y="728">BGIBMGA010619-PA</text></g>
<g id="br-004908"><circle class="n4" cx="1118" cy="735" r="20"/><text class="f l4" x="1115" y="740">BGIBMGA004908-PA</text></g>
<g id="br-004782"><circle class="n4" cx="1208" cy="737" r="20"/><text class="f l4" x="1210" y="742">BGIBMGA004782-PA</text></g>
<g id="br-003335"><circle class="n4" cx="780" cy="772" r="20"/><text class="f l4" x="777" y="777">BGIBMGA003335-PA</text></g>
<g id="br-005560"><circle class="n4" cx="965" cy="772" r="20"/><text class="f l4" x="962" y="777">BGIBMGA005560-PA</text></g>
<g id="br-014127"><circle class="n4" cx="1085" cy="780" r="20"/><text class="f l4" x="1086" y="784">BGIBMGA014127-PA</text></g>
<g id="br-007979"><circle class="n4" cx="1302" cy="785" r="20"/><text class="f l4" x="1301" y="793">BGIBMGA007979-PA</text></g>
<g id="br-006839"><circle class="n4" cx="1143" cy="797" r="20"/><text class="f l4" x="1142" y="805">BGIBMGA006839-PA</text></g>
<g id="br-007262"><circle class="n4" cx="987" cy="820" r="20"/><text class="f l4" x="984" y="825">BGIBMGA007262-PA</text></g>
<g id="br-007572"><circle class="n4" cx="1177" cy="835" r="20"/><text class="f l4" x="1172" y="843">BGIBMGA007572-PA</text></g>
<g id="br-005315"><circle class="n4" cx="1227" cy="852" r="20"/><text class="f l4" x="1225" y="855">BGIBMGA005315-PA</text></g>
<g id="br-008851"><circle class="n4" cx="1067" cy="853" r="20"/><text class="f l4" x="1066" y="862">BGIBMGA008851-PA</text></g>
<g id="br-002728"><circle class="n4" cx="977" cy="882" r="20"/><text class="f l4" x="974" y="887">BGIBMGA002728-PA</text></g>
<g id="br-014736"><circle class="n4" cx="1115" cy="877" r="20"/><text class="f l4" x="1121" y="882">BGIBMGA014736-PA</text></g>
<g id="br-002953"><circle class="n4" cx="1018" cy="910" r="20"/><text class="f l4" x="1015" y="915">BGIBMGA002953-PA</text></g>
<g id="br-011237"><circle class="n4" cx="1182" cy="902" r="20"/><text class="f l4" x="1180" y="907">BGIBMGA011237-PA</text></g>
<g id="br-002790"><circle class="n4" cx="1093" cy="935" r="20"/><text class="f l4" x="1091" y="940">BGIBMGA002790-PA</text></g>
<g id="br-003954"><circle class="n4" cx="1047" cy="953" r="20"/><text class="f l4" x="1045" y="957">BGIBMGA003954-PA</text></g>
<g id="br-012520"><circle class="n4" cx="1158" cy="950" r="20"/><text class="f l4" x="1155" y="957">BGIBMGA012520-PA</text></g>
</svg>
